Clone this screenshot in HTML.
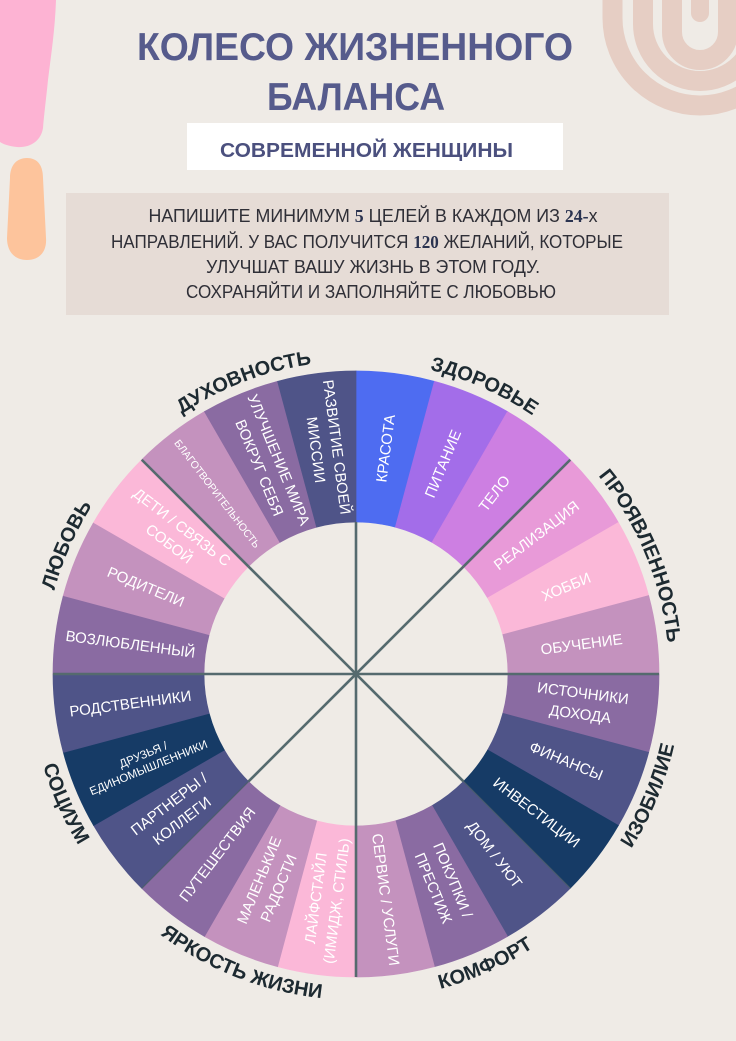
<!DOCTYPE html>
<html>
<head>
<meta charset="utf-8">
<style>
html,body{margin:0;padding:0;background:#efebe6;}
svg{display:block;}
</style>
</head>
<body>
<svg width="736" height="1041" viewBox="0 0 736 1041" xmlns="http://www.w3.org/2000/svg" xmlns:xlink="http://www.w3.org/1999/xlink">
<defs>
  <path id="seg" d="M356,371 A303,303 0 0 1 434.42,381.33 L395.34,527.18 A152,152 0 0 0 356,522 Z"/>
  <path id="arcT" d="M134.67,452.67 A313,313 0 0 1 577.33,452.67"/>
  <path id="arcB" d="M125.48,904.52 A326,326 0 0 0 586.52,904.52"/>
</defs>
<rect width="736" height="1041" fill="#efebe6"/>

<!-- decorations -->
<path d="M0,0 L56,0 C55,30 51,55 48,80 C46,100 44,115 43,128 C41,141 30,148 17,147 C8,146 3,144 0,142 Z" fill="#fdb3d3"/>
<path d="M27,158 C38,158 43,166 43,178 L46,238 C47,252 39,260 27,260 C15,260 7,252 7,238 L10,178 C10,166 16,158 27,158 Z" fill="#fdc49c"/>
<g fill="none" stroke="#e6cec4" stroke-width="20">
  <path d="M612.5,-5 L612.5,18 A87.5,87.5 0 0 0 787.5,18 L787.5,-5"/>
  <path d="M643,-5 L643,24 A57,57 0 0 0 757,24 L757,-5"/>
  <path d="M672,-5 L672,32 A28,28 0 0 0 728,32 L728,-5"/>
  <path d="M700,-5 L700,13" stroke-width="18" stroke-linecap="round"/>
</g>

<!-- title -->
<text x="355" y="60" font-family="'Liberation Sans', sans-serif" font-weight="bold" font-size="38.5" fill="#565b8c" text-anchor="middle" textLength="436" lengthAdjust="spacingAndGlyphs">КОЛЕСО ЖИЗНЕННОГО</text>
<text x="356" y="110" font-family="'Liberation Sans', sans-serif" font-weight="bold" font-size="38.5" fill="#565b8c" text-anchor="middle" textLength="178" lengthAdjust="spacingAndGlyphs">БАЛАНСА</text>

<rect x="187" y="123" width="376" height="47" fill="#ffffff"/>
<text x="366.5" y="157" font-family="'Liberation Sans', sans-serif" font-weight="bold" font-size="20.5" fill="#4b507e" text-anchor="middle" textLength="293" lengthAdjust="spacingAndGlyphs">СОВРЕМЕННОЙ ЖЕНЩИНЫ</text>

<!-- instruction box -->
<rect x="66" y="193" width="603" height="122" fill="#e6dcd6"/>
<g font-family="'Liberation Sans Narrow', 'Liberation Sans', sans-serif" font-size="18" fill="#2f2f37" text-anchor="middle">
  <text x="373" y="222" textLength="449" lengthAdjust="spacingAndGlyphs">НАПИШИТЕ МИНИМУМ <tspan font-family="'Liberation Serif', serif" font-weight="bold" fill="#2a3350">5</tspan> ЦЕЛЕЙ В КАЖДОМ ИЗ <tspan font-family="'Liberation Serif', serif" font-weight="bold" fill="#2a3350">24-</tspan>х</text>
  <text x="367" y="248" textLength="512" lengthAdjust="spacingAndGlyphs">НАПРАВЛЕНИЙ. У ВАС ПОЛУЧИТСЯ <tspan font-family="'Liberation Serif', serif" font-weight="bold" fill="#2a3350">120</tspan> ЖЕЛАНИЙ, КОТОРЫЕ</text>
  <text x="373" y="273" textLength="334" lengthAdjust="spacingAndGlyphs">УЛУЧШАТ ВАШУ ЖИЗНЬ В ЭТОМ ГОДУ.</text>
  <text x="371" y="298" textLength="370" lengthAdjust="spacingAndGlyphs">СОХРАНЯЙТИ И ЗАПОЛНЯЙТЕ С ЛЮБОВЬЮ</text>
</g>

<!-- wheel segments -->
<g stroke-width="0.7">
  <use href="#seg" xlink:href="#seg" fill="#4e6cf1" stroke="#4e6cf1" transform="rotate(0 356 674)"/>
  <use href="#seg" xlink:href="#seg" fill="#a36de9" stroke="#a36de9" transform="rotate(15 356 674)"/>
  <use href="#seg" xlink:href="#seg" fill="#cd7fe2" stroke="#cd7fe2" transform="rotate(30 356 674)"/>
  <use href="#seg" xlink:href="#seg" fill="#e89ad8" stroke="#e89ad8" transform="rotate(45 356 674)"/>
  <use href="#seg" xlink:href="#seg" fill="#fbb8d8" stroke="#fbb8d8" transform="rotate(60 356 674)"/>
  <use href="#seg" xlink:href="#seg" fill="#c492be" stroke="#c492be" transform="rotate(75 356 674)"/>
  <use href="#seg" xlink:href="#seg" fill="#8a6ba2" stroke="#8a6ba2" transform="rotate(90 356 674)"/>
  <use href="#seg" xlink:href="#seg" fill="#4f5488" stroke="#4f5488" transform="rotate(105 356 674)"/>
  <use href="#seg" xlink:href="#seg" fill="#163b66" stroke="#163b66" transform="rotate(120 356 674)"/>
  <use href="#seg" xlink:href="#seg" fill="#4f5488" stroke="#4f5488" transform="rotate(135 356 674)"/>
  <use href="#seg" xlink:href="#seg" fill="#8a6ba2" stroke="#8a6ba2" transform="rotate(150 356 674)"/>
  <use href="#seg" xlink:href="#seg" fill="#c492be" stroke="#c492be" transform="rotate(165 356 674)"/>
  <use href="#seg" xlink:href="#seg" fill="#fbb8d8" stroke="#fbb8d8" transform="rotate(180 356 674)"/>
  <use href="#seg" xlink:href="#seg" fill="#c492be" stroke="#c492be" transform="rotate(195 356 674)"/>
  <use href="#seg" xlink:href="#seg" fill="#8a6ba2" stroke="#8a6ba2" transform="rotate(210 356 674)"/>
  <use href="#seg" xlink:href="#seg" fill="#4f5488" stroke="#4f5488" transform="rotate(225 356 674)"/>
  <use href="#seg" xlink:href="#seg" fill="#163b66" stroke="#163b66" transform="rotate(240 356 674)"/>
  <use href="#seg" xlink:href="#seg" fill="#4f5488" stroke="#4f5488" transform="rotate(255 356 674)"/>
  <use href="#seg" xlink:href="#seg" fill="#8a6ba2" stroke="#8a6ba2" transform="rotate(270 356 674)"/>
  <use href="#seg" xlink:href="#seg" fill="#c492be" stroke="#c492be" transform="rotate(285 356 674)"/>
  <use href="#seg" xlink:href="#seg" fill="#fbb8d8" stroke="#fbb8d8" transform="rotate(300 356 674)"/>
  <use href="#seg" xlink:href="#seg" fill="#c492be" stroke="#c492be" transform="rotate(315 356 674)"/>
  <use href="#seg" xlink:href="#seg" fill="#8a6ba2" stroke="#8a6ba2" transform="rotate(330 356 674)"/>
  <use href="#seg" xlink:href="#seg" fill="#4f5488" stroke="#4f5488" transform="rotate(345 356 674)"/>
</g>

<!-- spokes -->
<g stroke="#556a6e" stroke-width="2.6">
  <!-- inside inner circle -->
  <line x1="356" y1="522" x2="356" y2="826"/>
  <line x1="204" y1="674" x2="508" y2="674"/>
  <line x1="248.52" y1="566.52" x2="463.48" y2="781.48"/>
  <line x1="463.48" y1="566.52" x2="248.52" y2="781.48"/>
  <!-- across ring, strong -->
  <line x1="463.48" y1="566.52" x2="570.25" y2="459.75"/>
  <line x1="508" y1="674" x2="659" y2="674"/>
  <line x1="356" y1="826" x2="356" y2="977"/>
  <line x1="204" y1="674" x2="53" y2="674"/>
  <line x1="248.52" y1="566.52" x2="141.75" y2="459.75"/>
</g>
<g stroke="#4a5f66" stroke-width="1.3" opacity="0.7">
  <line x1="463.48" y1="781.48" x2="570.25" y2="888.25"/>
  <line x1="248.52" y1="781.48" x2="141.75" y2="888.25"/>
</g>

<!-- segment labels -->
<g fill="#ffffff" font-family="'Liberation Sans', sans-serif" font-size="15" text-anchor="middle">
  <text transform="rotate(7.5 356 674) translate(356 446.5) rotate(-90)" y="5">КРАСОТА</text>
  <text transform="rotate(22.5 356 674) translate(356 446.5) rotate(-90)" y="5">ПИТАНИЕ</text>
  <text transform="rotate(37.5 356 674) translate(356 446.5) rotate(-90)" y="5">ТЕЛО</text>
  <text transform="rotate(52.5 356 674) translate(356 446.5) rotate(-90)" y="5">РЕАЛИЗАЦИЯ</text>
  <text transform="rotate(67.5 356 674) translate(356 446.5) rotate(-90)" y="5">ХОББИ</text>
  <text transform="rotate(82.5 356 674) translate(356 446.5) rotate(-90)" y="5">ОБУЧЕНИЕ</text>
  <text transform="rotate(97.5 356 674) translate(356 446.5) rotate(-90)"><tspan x="0" y="-5.5">ИСТОЧНИКИ</tspan><tspan x="0" y="15.5">ДОХОДА</tspan></text>
  <text transform="rotate(112.5 356 674) translate(356 446.5) rotate(-90)" y="5">ФИНАНСЫ</text>
  <text transform="rotate(127.5 356 674) translate(356 446.5) rotate(-90)" y="5">ИНВЕСТИЦИИ</text>
  <text transform="rotate(142.5 356 674) translate(356 446.5) rotate(-90)" y="5">ДОМ / УЮТ</text>
  <text transform="rotate(157.5 356 674) translate(356 446.5) rotate(-90)"><tspan x="0" y="-5.5">ПОКУПКИ /</tspan><tspan x="0" y="15.5">ПРЕСТИЖ</tspan></text>
  <text transform="rotate(172.5 356 674) translate(356 446.5) rotate(-90)" y="5">СЕРВИС / УСЛУГИ</text>

  <text transform="rotate(187.5 356 674) translate(356 446.5) rotate(90)"><tspan x="0" y="-5.5">ЛАЙФСТАЙЛ</tspan><tspan x="0" y="15.5">(ИМИДЖ, СТИЛЬ)</tspan></text>
  <text transform="rotate(202.5 356 674) translate(356 446.5) rotate(90)"><tspan x="0" y="-5.5">МАЛЕНЬКИЕ</tspan><tspan x="0" y="15.5">РАДОСТИ</tspan></text>
  <text transform="rotate(217.5 356 674) translate(356 446.5) rotate(90)" y="5">ПУТЕШЕСТВИЯ</text>
  <text transform="rotate(232.5 356 674) translate(356 446.5) rotate(90)"><tspan x="0" y="-5.5">ПАРТНЕРЫ /</tspan><tspan x="0" y="15.5">КОЛЛЕГИ</tspan></text>
  <text transform="rotate(247.5 356 674) translate(356 446.5) rotate(90)" font-size="11.5"><tspan x="0" y="-3">ДРУЗЬЯ /</tspan><tspan x="0" y="11">ЕДИНОМЫШЛЕННИКИ</tspan></text>
  <text transform="rotate(262.5 356 674) translate(356 446.5) rotate(90)" y="5">РОДСТВЕННИКИ</text>
  <text transform="rotate(277.5 356 674) translate(356 446.5) rotate(90)" y="5">ВОЗЛЮБЛЕННЫЙ</text>
  <text transform="rotate(292.5 356 674) translate(356 446.5) rotate(90)" y="5">РОДИТЕЛИ</text>
  <text transform="rotate(307.5 356 674) translate(356 446.5) rotate(90)"><tspan x="0" y="-5.5">ДЕТИ / СВЯЗЬ С</tspan><tspan x="0" y="15.5">СОБОЙ</tspan></text>
  <text transform="rotate(322.5 356 674) translate(356 446.5) rotate(90)" y="4" font-size="10.5">БЛАГОТВОРИТЕЛЬНОСТЬ</text>
  <text transform="rotate(337.5 356 674) translate(356 446.5) rotate(90)"><tspan x="0" y="-5.5">УЛУЧШЕНИЕ МИРА</tspan><tspan x="0" y="15.5">ВОКРУГ СЕБЯ</tspan></text>
  <text transform="rotate(352.5 356 674) translate(356 446.5) rotate(90)"><tspan x="0" y="-5.5">РАЗВИТИЕ СВОЕЙ</tspan><tspan x="0" y="15.5">МИССИИ</tspan></text>
</g>

<!-- category labels -->
<g font-family="'Liberation Sans', sans-serif" font-weight="bold" font-size="20" fill="#1d2a31">
  <text transform="rotate(24 356 674)"><textPath href="#arcT" xlink:href="#arcT" startOffset="50%" text-anchor="middle">ЗДОРОВЬЕ</textPath></text>
  <text transform="rotate(67.5 356 674)"><textPath href="#arcT" xlink:href="#arcT" startOffset="50%" text-anchor="middle">ПРОЯВЛЕННОСТЬ</textPath></text>
  <text transform="rotate(-66 356 674)"><textPath href="#arcT" xlink:href="#arcT" startOffset="50%" text-anchor="middle">ЛЮБОВЬ</textPath></text>
  <text transform="rotate(-21 356 674)"><textPath href="#arcT" xlink:href="#arcT" startOffset="50%" text-anchor="middle">ДУХОВНОСТЬ</textPath></text>
  <text transform="rotate(-67.5 356 674)"><textPath href="#arcB" xlink:href="#arcB" startOffset="50%" text-anchor="middle">ИЗОБИЛИЕ</textPath></text>
  <text transform="rotate(-24 356 674)"><textPath href="#arcB" xlink:href="#arcB" startOffset="50%" text-anchor="middle">КОМФОРТ</textPath></text>
  <text transform="rotate(21.5 356 674)"><textPath href="#arcB" xlink:href="#arcB" startOffset="50%" text-anchor="middle">ЯРКОСТЬ ЖИЗНИ</textPath></text>
  <text transform="rotate(66 356 674)"><textPath href="#arcB" xlink:href="#arcB" startOffset="50%" text-anchor="middle">СОЦИУМ</textPath></text>
</g>
</svg>
</body>
</html>
